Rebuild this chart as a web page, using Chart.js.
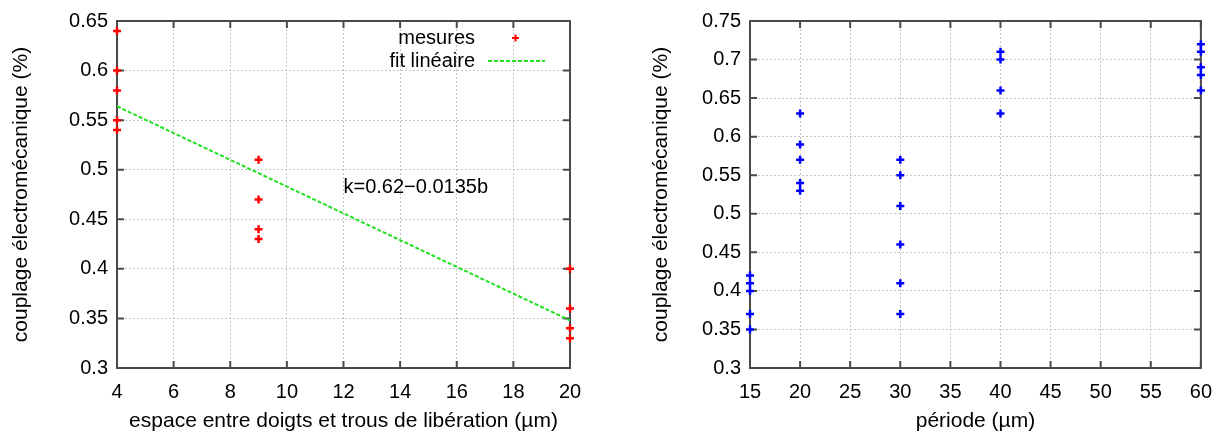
<!DOCTYPE html>
<html>
<head>
<meta charset="utf-8">
<script src="https://cdn.jsdelivr.net/npm/chart.js@4.4.1/dist/chart.umd.min.js"></script>
<style>
  html, body { margin: 0; padding: 0; background: #fff; }
  .box { position: absolute; top: 0; width: 612px; height: 435px; }
  #boxLeft { left: 0; }
  #boxRight { left: 612px; }
</style>
</head>
<body>
<div class="box" id="boxLeft"><canvas id="chartLeft"></canvas></div>
<div class="box" id="boxRight"><canvas id="chartRight"></canvas></div>
<script>
// --- graphe de gauche : couplage vs espace entre doigts
const espace = [4, 4, 4, 4, 4, 9, 9, 9, 9, 20, 20, 20, 20];
const couplageEspace = [0.64, 0.60, 0.58, 0.55, 0.54, 0.51, 0.47, 0.44, 0.43, 0.40, 0.36, 0.34, 0.33];
const fitX = [4, 20];
const fitY = [0.564, 0.348];
const fitText = "k=0.62\u22120.0135b";
const fitTextPos = [12, 0.482];
const xTicksLeft = [4, 6, 8, 10, 12, 14, 16, 18, 20];
const yTicksLeft = [0.3, 0.35, 0.4, 0.45, 0.5, 0.55, 0.6, 0.65];

// --- graphe de droite : couplage vs période
const periode = [15, 15, 15, 15, 15, 20, 20, 20, 20, 20, 30, 30, 30, 30, 30, 30, 40, 40, 40, 40, 60, 60, 60, 60, 60];
const couplagePeriode = [0.42, 0.41, 0.40, 0.37, 0.35, 0.63, 0.59, 0.57, 0.54, 0.53, 0.57, 0.55, 0.51, 0.46, 0.41, 0.37, 0.71, 0.70, 0.66, 0.63, 0.72, 0.71, 0.69, 0.68, 0.66];
const xTicksRight = [15, 20, 25, 30, 35, 40, 45, 50, 55, 60];
const yTicksRight = [0.3, 0.35, 0.4, 0.45, 0.5, 0.55, 0.6, 0.65, 0.7, 0.75];

const FONT = "'Liberation Sans', Arial, Helvetica, sans-serif";
const FRAME = "#4a4a4a";
const GRID = "#c4c4c4";

function points(xs, ys) {
  return xs.map((x, i) => ({ x: x, y: ys[i] }));
}

// cadre + petites graduations vers l'intérieur (style gnuplot)
const framePlugin = {
  id: "frame",
  beforeDatasetsDraw(chart) {
    const a = chart.chartArea;
    const ctx = chart.ctx;
    const sx = chart.scales.x;
    const sy = chart.scales.y;
    ctx.save();
    ctx.strokeStyle = FRAME;
    ctx.lineWidth = 2;
    ctx.beginPath();
    sx.ticks.forEach(t => {
      const px = sx.getPixelForValue(t.value);
      ctx.moveTo(px, a.bottom);
      ctx.lineTo(px, a.bottom - 7);
      ctx.moveTo(px, a.top);
      ctx.lineTo(px, a.top + 7);
    });
    sy.ticks.forEach(t => {
      const py = sy.getPixelForValue(t.value);
      ctx.moveTo(a.left, py);
      ctx.lineTo(a.left + 7, py);
      ctx.moveTo(a.right, py);
      ctx.lineTo(a.right - 7, py);
    });
    ctx.stroke();
    ctx.strokeRect(a.left, a.top, a.right - a.left, a.bottom - a.top);
    ctx.restore();
  }
};

// légende dans le graphe + texte du fit
const legendPlugin = {
  id: "legendIn",
  afterDraw(chart) {
    if (chart.canvas.id !== "chartLeft") return;
    const a = chart.chartArea;
    const ctx = chart.ctx;
    const ds = chart.data.datasets;
    ctx.save();
    ctx.font = "20px " + FONT;
    ctx.fillStyle = "#000";
    ctx.textAlign = "right";
    ctx.textBaseline = "middle";
    ctx.fillText(ds[0].label, a.right - 95, a.top + 17);
    ctx.fillText(ds[1].label, a.right - 95, a.top + 40);
    // symbole mesures
    ctx.strokeStyle = ds[0].borderColor;
    ctx.lineWidth = 2;
    ctx.beginPath();
    ctx.moveTo(a.right - 58, a.top + 17);
    ctx.lineTo(a.right - 51, a.top + 17);
    ctx.moveTo(a.right - 54.5, a.top + 13.5);
    ctx.lineTo(a.right - 54.5, a.top + 20.5);
    ctx.stroke();
    // symbole fit
    ctx.strokeStyle = ds[1].borderColor;
    ctx.setLineDash(ds[1].borderDash);
    ctx.beginPath();
    ctx.moveTo(a.right - 82, a.top + 40);
    ctx.lineTo(a.right - 25, a.top + 40);
    ctx.stroke();
    ctx.setLineDash([]);
    // équation
    ctx.textAlign = "left";
    ctx.fillText(fitText, chart.scales.x.getPixelForValue(fitTextPos[0]), chart.scales.y.getPixelForValue(fitTextPos[1]));
    ctx.restore();
  }
};

function makeScales(xTicks, yTicks, xTitle, yWidth, yTitlePad) {
  return {
    x: {
      type: "linear",
      min: xTicks[0],
      max: xTicks[xTicks.length - 1],
      afterBuildTicks: s => { s.ticks = xTicks.map(v => ({ value: v })); },
      afterFit: s => { s.height = 67; },
      grid: { color: GRID, lineWidth: 1, drawTicks: false },
      border: { display: false, dash: [2, 2] },
      ticks: { color: "#000", font: { family: FONT, size: 20 }, padding: 12, maxRotation: 0 },
      title: { display: true, text: xTitle, color: "#000", font: { family: FONT, size: 21 }, padding: { top: 0, bottom: 1 } }
    },
    y: {
      type: "linear",
      min: yTicks[0],
      max: yTicks[yTicks.length - 1],
      afterBuildTicks: s => { s.ticks = yTicks.map(v => ({ value: v })); },
      afterFit: s => { s.width = yWidth; },
      grid: { color: GRID, lineWidth: 1, drawTicks: false },
      border: { display: false, dash: [2, 2] },
      ticks: {
        color: "#000", font: { family: FONT, size: 20 }, padding: 9,
        callback: v => String(Number(v.toFixed(2)))
      },
      title: { display: true, text: "couplage électromécanique (%)", color: "#000", font: { family: FONT, size: 21 }, padding: { top: yTitlePad, bottom: 0 } }
    }
  };
}

const commonPlugins = {
  legend: { display: false },
  tooltip: { enabled: false }
};

const chartLeft = new Chart("chartLeft", {
  type: "scatter",
  data: {
    datasets: [
      {
        label: "mesures",
        data: points(espace, couplageEspace),
        pointStyle: "cross",
        pointRadius: 4,
        borderWidth: 2.5,
        borderColor: "#ff0000",
        backgroundColor: "#ff0000",
        clip: false
      },
      {
        label: "fit linéaire",
        type: "line",
        data: points(fitX, fitY),
        borderColor: "#22e022",
        borderWidth: 2,
        borderDash: [4, 2],
        pointRadius: 0,
        fill: false,
        tension: 0
      }
    ]
  },
  options: {
    responsive: true,
    maintainAspectRatio: false,
    animation: false,
    layout: { padding: { top: 18, right: 42, bottom: 0, left: 0 } },
    scales: makeScales(xTicksLeft, yTicksLeft, "espace entre doigts et trous de libération (\u00b5m)", 117, 9),
    plugins: commonPlugins
  },
  plugins: [framePlugin, legendPlugin]
});

const chartRight = new Chart("chartRight", {
  type: "scatter",
  data: {
    datasets: [
      {
        label: "mesures",
        data: points(periode, couplagePeriode),
        pointStyle: "cross",
        pointRadius: 4,
        borderWidth: 2.5,
        borderColor: "#0000ff",
        backgroundColor: "#0000ff",
        clip: false
      }
    ]
  },
  options: {
    responsive: true,
    maintainAspectRatio: false,
    animation: false,
    layout: { padding: { top: 18, right: 22, bottom: 0, left: 0 } },
    scales: makeScales(xTicksRight, yTicksRight, "période (\u00b5m)", 138, 37),
    plugins: commonPlugins
  },
  plugins: [framePlugin]
});
</script>
</body>
</html>
